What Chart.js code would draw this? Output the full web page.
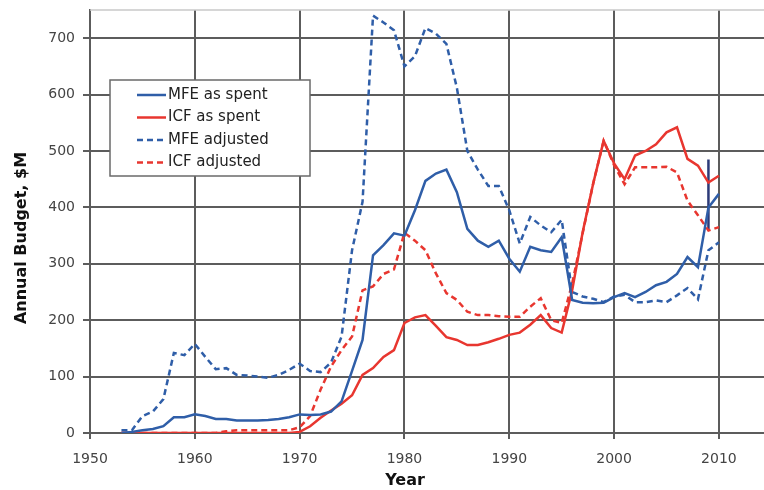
<!DOCTYPE html>
<html>
<head>
<meta charset="utf-8">
<script src="https://cdn.jsdelivr.net/npm/chart.js@4.4.1/dist/chart.umd.min.js"></script>
<style>
  html, body { margin: 0; padding: 0; background: #fff; }
  #wrap { width: 764px; height: 490px; position: relative; }
</style>
</head>
<body>
<div id="wrap"><canvas id="budgetChart" width="764" height="490"></canvas></div>
<script>
  // years 1953 - 2010
  const years = [
    1953, 1954, 1955, 1956, 1957, 1958, 1959, 1960, 1961, 1962,
    1963, 1964, 1965, 1966, 1967, 1968, 1969, 1970, 1971, 1972,
    1973, 1974, 1975, 1976, 1977, 1978, 1979, 1980, 1981, 1982,
    1983, 1984, 1985, 1986, 1987, 1988, 1989, 1990, 1991, 1992,
    1993, 1994, 1995, 1996, 1997, 1998, 1999, 2000, 2001, 2002,
    2003, 2004, 2005, 2006, 2007, 2008, 2009, 2010
  ];

  const mfeSpent = [
    0, 2, 5, 7, 12, 28, 28, 33, 30, 25,
    25, 22, 22, 22, 23, 25, 28, 33, 32, 33,
    38, 56, 110, 165, 315, 333, 354, 350, 395, 447,
    460, 467, 427, 362, 341, 330, 341, 309, 286, 330,
    324, 321, 347, 236, 231, 230, 231, 241, 248, 241,
    250, 262, 268, 282, 312, 294, 400, 424
  ];

  const icfSpent = [
    0, 0, 0, 0, 0, 0, 0, 0, 0, 0,
    0, 0, 0, 0, 0, 0, 0, 2, 12, 27,
    40, 52, 67, 103, 115, 135, 147, 195, 205, 209,
    190, 170, 165, 156, 156, 161, 167, 174, 178, 192,
    209, 186, 178, 253, 356, 442, 518, 478, 450, 492,
    500, 512, 533, 542, 486, 474, 444, 456
  ];

  const mfeAdjusted = [
    5, 5, 30, 38, 60, 142, 138, 158, 135, 113,
    115, 103, 102, 100, 98, 103, 112, 123, 110, 108,
    125, 171, 324, 410, 740, 728, 714, 650, 668, 718,
    708, 690, 612, 500, 467, 438, 438, 395, 336, 383,
    368, 356, 378, 250, 242, 238, 232, 242, 245, 232,
    232, 235, 232, 244, 257, 237, 324, 338
  ];

  const icfAdjusted = [
    0, 0, 0, 0, 0, 0, 0, 0, 0, 0,
    3, 5, 5, 5, 5, 5, 5, 10, 30, 77,
    118, 147, 171, 253, 260, 282, 290, 355, 341, 324,
    283, 248, 236, 215, 209, 209, 207, 206, 206, 224,
    239, 200, 195, 265, 354, 442, 518, 475, 441, 471,
    471, 471, 472, 462, 412, 386, 359, 365
  ];

  // 2009 one-off spike (drawn as a vertical bar)
  const spikeYears = [2009, 2009];
  const spikeValues = [485, 360];

  const xTicks = [1950, 1960, 1970, 1980, 1990, 2000, 2010];
  const yTicks = [0, 100, 200, 300, 400, 500, 600, 700];

  const BLUE = '#2f5ea8';
  const RED = '#e8362f';

  function pts(xs, ys) {
    return xs.map((x, i) => ({ x: x, y: ys[i] }));
  }

  const boxLegend = {
    id: 'boxLegend',
    afterDraw(chart) {
      const ctx = chart.ctx;
      const x0 = 110, y0 = 80, w = 200, h = 96;
      ctx.save();
      ctx.fillStyle = '#fff';
      ctx.fillRect(x0, y0, w, h);
      ctx.strokeStyle = '#6a6a6a';
      ctx.lineWidth = 1.5;
      ctx.strokeRect(x0, y0, w, h);
      ctx.font = '15px "DejaVu Sans"';
      ctx.textBaseline = 'middle';
      chart.data.datasets.filter(d => !d.hideInLegend).forEach((d, i) => {
        const y = 95 + i * 22.5;
        ctx.strokeStyle = d.borderColor;
        ctx.lineWidth = 2.5;
        ctx.setLineDash(d.borderDash || []);
        ctx.beginPath();
        ctx.moveTo(137, y);
        ctx.lineTo(166, y);
        ctx.stroke();
        ctx.setLineDash([]);
        ctx.fillStyle = '#222';
        ctx.fillText(d.label, 168, y);
      });
      ctx.restore();
    }
  };

  const axisTitles = {
    id: 'axisTitles',
    beforeDatasetsDraw(chart) {
      // thin light frame line along the top of the plot
      const a = chart.chartArea;
      const ctx = chart.ctx;
      ctx.save();
      ctx.strokeStyle = '#c8c8c8';
      ctx.lineWidth = 1.5;
      ctx.beginPath();
      ctx.moveTo(a.left, a.top);
      ctx.lineTo(a.right, a.top);
      ctx.stroke();
      ctx.restore();
    },
    afterDraw(chart) {
      const ctx = chart.ctx;
      ctx.save();
      ctx.fillStyle = '#111';
      ctx.font = 'bold 16px "DejaVu Sans"';
      ctx.textAlign = 'center';
      ctx.textBaseline = 'middle';
      ctx.fillText('Year', 405, 481);
      ctx.translate(22, 238);
      ctx.rotate(-Math.PI / 2);
      ctx.fillText('Annual Budget, $M', 0, 0);
      ctx.restore();
    }
  };

  const ctx = document.getElementById('budgetChart').getContext('2d');
  const chart = new Chart(ctx, {
    type: 'line',
    data: {
      datasets: [
        { label: 'MFE as spent', data: pts(years, mfeSpent), borderColor: BLUE, borderWidth: 2.5 },
        { label: 'ICF as spent', data: pts(years, icfSpent), borderColor: RED, borderWidth: 2.5 },
        { label: 'MFE adjusted', data: pts(years, mfeAdjusted), borderColor: BLUE, borderWidth: 2.5, borderDash: [6, 4] },
        { label: 'ICF adjusted', data: pts(years, icfAdjusted), borderColor: RED, borderWidth: 2.5, borderDash: [6, 4] },
        { label: 'spike', data: pts(spikeYears, spikeValues), borderColor: '#2c3a78', borderWidth: 2.5, hideInLegend: true }
      ]
    },
    options: {
      responsive: false,
      animation: false,
      layout: { padding: { top: 10, right: 0, left: 0, bottom: 0 } },
      elements: { point: { radius: 0 }, line: { tension: 0, fill: false } },
      plugins: { legend: { display: false }, tooltip: { enabled: false } },
      scales: {
        x: {
          type: 'linear',
          min: 1950,
          max: 2014.3,
          afterBuildTicks: s => { s.ticks = xTicks.map(v => ({ value: v })); },
          afterFit: s => { s.height = 57; s.paddingLeft = 0; s.paddingRight = 0; },
          grid: { color: '#5c5c5c', lineWidth: 2, tickLength: 6 },
          border: { color: '#5c5c5c', width: 2 },
          ticks: {
            color: '#444', font: { family: 'DejaVu Sans', size: 14 }, padding: 12, maxRotation: 0,
            callback: v => String(v)
          }
        },
        y: {
          min: 0,
          max: 750,
          afterBuildTicks: s => { s.ticks = yTicks.map(v => ({ value: v })); },
          afterFit: s => { s.width = 90; s.paddingTop = 0; s.paddingBottom = 0; },
          grid: { color: '#5c5c5c', lineWidth: 2, tickLength: 7 },
          border: { color: '#5c5c5c', width: 2 },
          ticks: {
            color: '#444', font: { family: 'DejaVu Sans', size: 14 }, padding: 8,
            callback: v => String(v)
          }
        }
      }
    },
    plugins: [boxLegend, axisTitles]
  });
</script>
</body>
</html>
